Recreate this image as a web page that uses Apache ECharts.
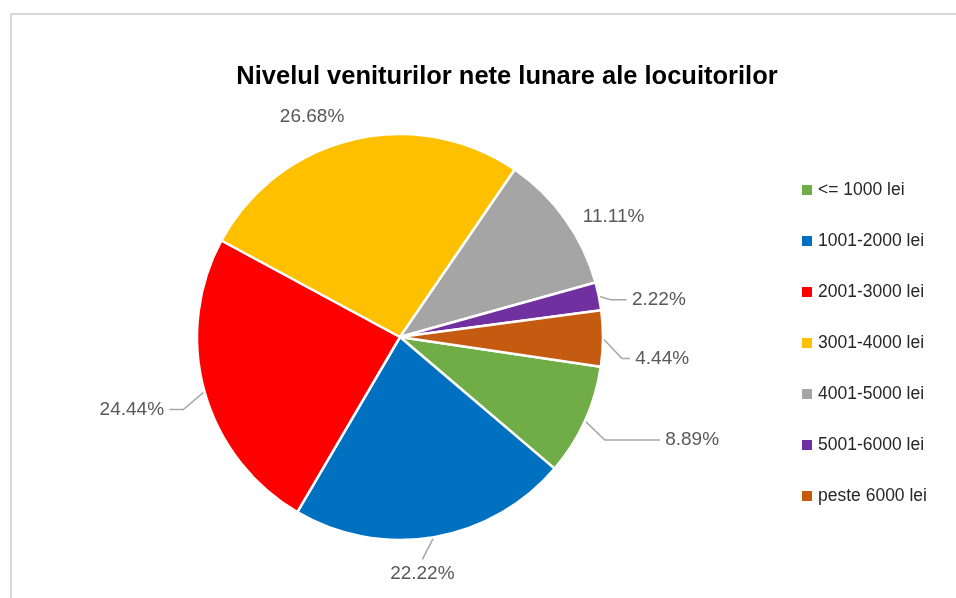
<!DOCTYPE html>
<html>
<head>
<meta charset="utf-8">
<script src="https://cdn.jsdelivr.net/npm/echarts@6/dist/echarts.min.js"></script>
<style>
    html, body { margin: 0; padding: 0; background: #fff; }
    #frame {
        position: absolute; left: 10px; top: 13px; width: 960px; height: 600px;
        border: 2px solid #d9d9d9; box-sizing: border-box;
    }
    #chart { position: absolute; left: 0; top: 0; width: 956px; height: 598px; }
</style>
</head>
<body>
<div id="frame"></div>
<div id="chart"></div>
<script>
// categorii venituri
var categorii = ['<= 1000 lei', '1001-2000 lei', '2001-3000 lei', '3001-4000 lei', '4001-5000 lei', '5001-6000 lei', 'peste 6000 lei'];
// procente
var procente = [8.89, 22.22, 24.44, 26.68, 11.11, 2.22, 4.44];
var culori = ['#70ad47', '#0070c0', '#ff0000', '#ffc000', '#a5a5a5', '#7030a0', '#c55a11'];

var myChart = echarts.init(document.getElementById('chart'));

// linii de legatura per felie (lungime radiala / orizontala)
var linii = [
    { length: 22, length2: 55 },
    { length: 24, length2: 0 },
    { length: 22, length2: 14 },
    { length: 20, length2: 4, show: false },
    { length: 14, length2: 6, show: false },
    { length: 12, length2: 16 },
    { length: 20, length2: 8 }
];
// deplasari fine ale etichetelor
var deplasari = [[-5, 10], [-58, 12.5], [5, 12], [11, -3], [-10, 6], [-5, 6], [-6, 20]];

var date = [];
for (var i = 0; i < categorii.length; i++) {
    date.push({
        name: categorii[i],
        value: procente[i],
        itemStyle: { color: culori[i] },
        labelLine: linii[i]
    });
}

var option = {
    animation: false,
    title: {
        text: 'Nivelul veniturilor nete lunare ale locuitorilor',
        left: 502,
        top: 59,
        textAlign: 'center',
        textStyle: {
            fontFamily: 'Liberation Sans',
            fontWeight: 'bold',
            fontSize: 25.5,
            color: '#000'
        }
    },
    legend: {
        orient: 'vertical',
        left: 800,
        top: 181,
        padding: 0,
        itemWidth: 12,
        itemHeight: 12,
        itemGap: 33,
        icon: 'rect',
        textStyle: {
            fontFamily: 'Liberation Sans',
            fontSize: 17.5,
            color: '#262626'
        },
        data: categorii
    },
    series: [{
        type: 'pie',
        center: [400, 337],
        radius: 203,
        startAngle: -8.4,
        clockwise: true,
        data: date,
        itemStyle: {
            borderColor: '#fff',
            borderWidth: 2.5
        },
        label: {
            show: true,
            // spatii ca sa ramana un gol intre linie si text
            formatter: function (p) { return ' ' + p.value.toFixed(2) + '% '; },
            fontFamily: 'Liberation Sans',
            fontSize: 19,
            lineHeight: 28,
            color: '#595959'
        },
        labelLine: {
            show: true,
            lineStyle: { color: '#a6a6a6', width: 1.5 }
        },
        labelLayout: function (p) {
            var d = deplasari[p.dataIndex];
            var r = p.labelRect;
            if (p.dataIndex === 1) {
                // eticheta de jos, centrata sub linie
                return { x: r.x + r.width / 2 + d[0], y: r.y + d[1], align: 'center', verticalAlign: 'top' };
            }
            return { x: r.x + d[0], y: r.y + r.height / 2 + d[1], align: 'left', verticalAlign: 'middle' };
        }
    }]
};

myChart.setOption(option);
</script>
</body>
</html>
